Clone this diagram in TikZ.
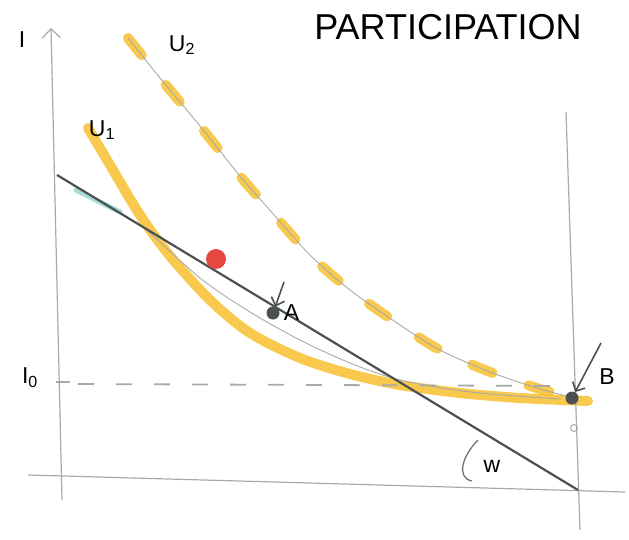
\documentclass[tikz,border=0pt]{standalone}
\usepackage{fontspec}
\setmainfont{Liberation Sans}
\usetikzlibrary{arrows.meta,positioning,calc}
\definecolor{Pencil}{HTML}{A9A9A9}
\definecolor{Lead}{HTML}{4B5152}
\definecolor{Marker}{HTML}{F7BF2E}
\definecolor{Dot}{HTML}{E5483F}
\definecolor{Mint}{HTML}{A6DCD5}
\tikzset{
 axis/.style={draw=Pencil,line width=1.2pt},
 budget/.style={draw=Lead,line width=2.2pt},
 indiff/.style={draw=Marker,line width=10pt,line cap=round,opacity=.85},
 sketch/.style={draw=Pencil,line width=.9pt},
 pt/.style={circle,fill=Lead,inner sep=0pt,minimum size=13pt},
 lbl/.style={font=\fontsize{23}{23}\selectfont,text=black,inner sep=1pt},
 ptr/.style={-{Straight Barb[length=7pt]},draw=Lead,line width=1.6pt}
}
\begin{document}
\begin{tikzpicture}[x=1pt,y=-1pt]
\useasboundingbox (0,0) rectangle (629,540);
% highlighter strokes
\draw[indiff] plot[smooth] coordinates {(88,128) (110,165) (140,215) (170,256) (210,300) (250,333) (300,358) (350,374) (400,385) (460,393) (520,398) (588,401)};
\draw[indiff,dash pattern=on 22pt off 38pt] plot[smooth] coordinates {(128,38) (160,78) (200,126) (240,176) (275,216) (310,255) (350,290) (400,325) (440,350) (490,372) (540,389) (575,398)};
\draw[draw=Mint,line width=5pt,line cap=round] (76,190) -- (120,212);
% axes
\draw[axis,-{Straight Barb[length=9pt]}] (62,500) -- (51,28);
\draw[axis] (28,475) -- (625,492);
\draw[axis] (566,112) -- (580,530);
\draw[axis] (56,382) -- (70,382);
\draw[axis,line width=1.8pt,dash pattern=on 16pt off 22pt] (78,384) -- (565,386);
\draw[sketch] (574,428) circle (3.5pt);
% pencil curves
\draw[sketch] plot[smooth] coordinates {(145,228) (200,278) (250,312) (300,340) (350,363) (400,380) (470,392) (560,399)};
\draw[sketch] plot[smooth] coordinates {(128,38) (160,78) (200,126) (240,176) (275,216) (310,255) (350,290) (400,325) (440,350) (490,372) (540,389) (575,398)};
% budget line
\coordinate (top) at (57,175);
\coordinate (end) at (578,490);
\draw[budget] (top) -- (end);
% labels
\node[lbl] (ylab) at (22,40) {I};
\node[lbl] (u2) at (182,45) {U\textsubscript{2}};
\node[lbl] (u1) at (102,130) {U\textsubscript{1}};
\node[lbl] (izero) at (30,378) {I\textsubscript{0}};
\node[font=\fontsize{36}{36}\selectfont,inner sep=1pt] (title) at (448,27) {PARTICIPATION};
% points
\node[circle,fill=Dot,inner sep=0pt,minimum size=20pt] (red) at (216,259) {};
\node[pt] (A) at (273,313) {};
\node[lbl,right=3pt of A] (Alab) {A};
\coordinate (Atail) at (284,282);
\draw[ptr] (Atail) -- (A);
\node[pt] (B) at (572,398) {};
\node[lbl] (Blab) at (607,377) {B};
\coordinate (Btail) at (601,343);
\draw[ptr] (Btail) -- (B);
% slope
\draw[draw=Lead!80,line width=1.3pt] (478,440) .. controls (462,456) and (456,478) .. (472,481);
\node[lbl] (w) at (492,466) {w};
\end{tikzpicture}
\end{document}
